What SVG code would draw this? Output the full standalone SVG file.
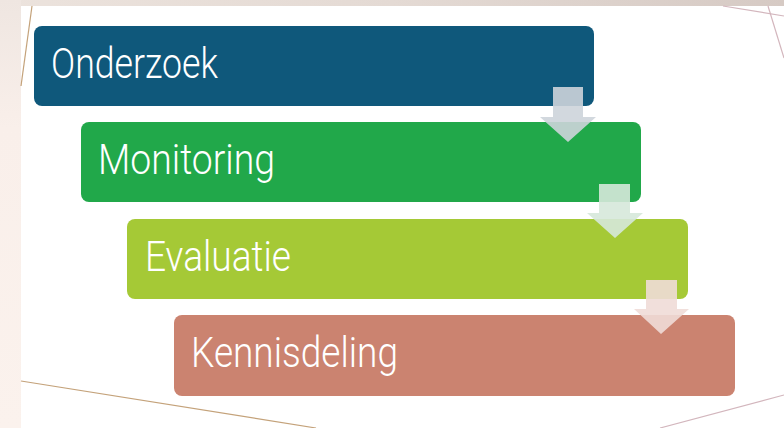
<svg xmlns="http://www.w3.org/2000/svg" width="784" height="428" viewBox="0 0 784 428">
<defs>
<style>
.lbl{font-family:Roboto,"Liberation Sans",sans-serif;font-size:43px;fill:#ffffff;font-weight:300}
.deco{fill:none;stroke-width:1.2}
</style>
<linearGradient id="topg" x1="0" y1="0" x2="1" y2="0">
<stop offset="0" stop-color="#ece3dd"/>
<stop offset="0.5" stop-color="#e4dad4"/>
<stop offset="1" stop-color="#d6cac4"/>
</linearGradient>
<linearGradient id="leftg" x1="0" y1="0" x2="0" y2="1">
<stop offset="0" stop-color="#efe6e1"/>
<stop offset="0.3" stop-color="#f9efea"/>
<stop offset="1" stop-color="#fbf2ed"/>
</linearGradient>
</defs>
<rect x="0" y="0" width="784" height="428" fill="#ffffff"/>
<rect x="0" y="0" width="784" height="6" fill="url(#topg)"/>
<rect x="0" y="0" width="21" height="428" fill="url(#leftg)"/>
<g id="decor">
<line class="deco" x1="32" y1="6" x2="21" y2="86" stroke="#c4a27a"/>
<line class="deco" x1="21" y1="381" x2="316" y2="428" stroke="#c4a27a"/>
<line class="deco" x1="723" y1="6" x2="784" y2="16" stroke="#d3b6bd"/>
<line class="deco" x1="768" y1="6" x2="784" y2="58" stroke="#d3b6bd"/>
<line class="deco" x1="784" y1="395" x2="660" y2="428" stroke="#d3b6bd"/>
</g>
<g id="node-onderzoek">
<rect x="34" y="26" width="560" height="80" rx="8" fill="#0f587b"/>
<text class="lbl" x="51" y="78" textLength="167" lengthAdjust="spacingAndGlyphs">Onderzoek</text>
</g>
<g id="node-monitoring">
<rect x="81" y="122" width="560" height="80" rx="8" fill="#21a84a"/>
<text class="lbl" x="98" y="174" textLength="177" lengthAdjust="spacingAndGlyphs">Monitoring</text>
</g>
<g id="node-evaluatie">
<rect x="127" y="219" width="561" height="80" rx="8" fill="#a5c936"/>
<text class="lbl" x="145" y="271" textLength="146" lengthAdjust="spacingAndGlyphs">Evaluatie</text>
</g>
<g id="node-kennisdeling">
<rect x="174" y="315" width="561" height="81" rx="8" fill="#cb8370"/>
<text class="lbl" x="191" y="367" textLength="207" lengthAdjust="spacingAndGlyphs">Kennisdeling</text>
</g>
<g id="connectors">
<polygon points="553,87 583,87 583,117 596,117 568,142 540,117 553,117" fill="#cdd4da" fill-opacity="0.9"/>
<polygon points="599,184 630,184 630,213 643,213 615,238 587,213 599,213" fill="#d6e8da" fill-opacity="0.9"/>
<polygon points="646,280 677,280 677,309 689,309 661,334 634,309 646,309" fill="#efdcd7" fill-opacity="0.9"/>
</g>
</svg>
